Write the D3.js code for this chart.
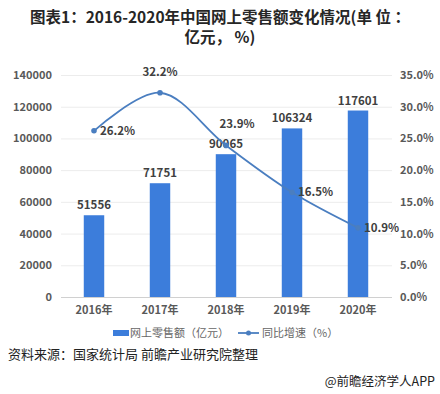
<!DOCTYPE html>
<html>
<head>
<meta charset="utf-8">
<script src="https://cdn.jsdelivr.net/npm/d3@7"></script>
<style>
  body { margin: 0; background: #fff; }
  svg text { font-family: "Microsoft YaHei", "Noto Sans CJK SC", "Liberation Sans", sans-serif; }
</style>
</head>
<body>
<svg id="chart" width="440" height="394"></svg>
<script>
var years  = ["2016年", "2017年", "2018年", "2019年", "2020年"];
var sales  = [51556, 71751, 90065, 106324, 117601];
var growth = [26.2, 32.2, 23.9, 16.5, 10.9];
var leftTicks  = [0, 20000, 40000, 60000, 80000, 100000, 120000, 140000];
var rightTicks = [0, 5, 10, 15, 20, 25, 30, 35];
// where each growth label sits relative to its point
var growthPos = ["right", "top", "top", "right", "right"];

var barColor = "#3c7ddb",
    lineColor = "#4a7ec0",
    tickColor = "#595959";

var svg = d3.select("#chart");

var x = d3.scaleBand().domain(years).range([61, 391]).paddingInner(0.69).paddingOuter(0.345);
var yL = d3.scaleLinear().domain([0, 140000]).range([297, 75]);
var yR = d3.scaleLinear().domain([0, 35]).range([297, 75]);

// title
svg.append("text").attr("x", 220).attr("y", 23).attr("text-anchor", "middle")
  .style("font-size", "15.5px").style("font-weight", "bold").attr("fill", "#262626")
  .text("图表1：2016-2020年中国网上零售额变化情况(单 位 ：");
svg.append("text").attr("x", 220).attr("y", 43).attr("text-anchor", "middle")
  .style("font-size", "15.5px").style("font-weight", "bold").attr("fill", "#262626")
  .text("亿元， %)");

// grid
svg.append("g").selectAll("line").data(leftTicks).enter().append("line")
  .attr("x1", 61).attr("x2", 392)
  .attr("y1", function(d){ return yL(d) + 0.5 }).attr("y2", function(d){ return yL(d) + 0.5 })
  .attr("stroke", function(d){ return d == 0 ? "#d0d0d0" : "#ececec" })
  .attr("stroke-width", 1);

// left axis
var axL = svg.append("g").attr("transform", "translate(55,0)")
  .call(d3.axisLeft(yL).tickValues(leftTicks).tickSize(0).tickFormat(d3.format("d")));
axL.select(".domain").remove();
axL.selectAll("text").attr("fill", tickColor).style("font-size", "11px").style("font-weight", "bold");

// right axis
var axR = svg.append("g").attr("transform", "translate(397,0)")
  .call(d3.axisRight(yR).tickValues(rightTicks).tickSize(0).tickFormat(function(d){ return d.toFixed(1) + "%" }));
axR.select(".domain").remove();
axR.selectAll("text").attr("fill", tickColor).style("font-size", "11px").style("font-weight", "bold");

// bottom axis
var axB = svg.append("g").attr("transform", "translate(0,303)")
  .call(d3.axisBottom(x).tickSize(0));
axB.select(".domain").remove();
axB.selectAll("text").attr("fill", tickColor).style("font-size", "11px").style("font-weight", "bold");

// bars
svg.append("g").selectAll("rect").data(sales).enter().append("rect")
  .attr("x", function(d, i){ return x(years[i]) })
  .attr("width", x.bandwidth())
  .attr("y", function(d){ return yL(d) })
  .attr("height", function(d){ return yL(0) - yL(d) })
  .attr("fill", barColor);

svg.append("g").selectAll("text").data(sales).enter().append("text")
  .attr("x", function(d, i){ return x(years[i]) + x.bandwidth() / 2 })
  .attr("y", function(d){ return yL(d) - 6 })
  .attr("text-anchor", "middle")
  .attr("fill", "#404040").style("font-size", "11.5px").style("font-weight", "bold")
  .text(function(d){ return d });

// growth line
var line = d3.line()
  .x(function(d, i){ return x(years[i]) + x.bandwidth() / 2 })
  .y(function(d){ return yR(d) })
  .curve(d3.curveCatmullRom.alpha(0.5));

svg.append("path").datum(growth).attr("d", line)
  .attr("fill", "none").attr("stroke", lineColor).attr("stroke-width", 1.8);

svg.append("g").selectAll("circle").data(growth).enter().append("circle")
  .attr("cx", function(d, i){ return x(years[i]) + x.bandwidth() / 2 })
  .attr("cy", function(d){ return yR(d) })
  .attr("r", 2.8).attr("fill", lineColor);

svg.append("g").selectAll("text").data(growth).enter().append("text")
  .attr("x", function(d, i){
    var cx = x(years[i]) + x.bandwidth() / 2;
    if (growthPos[i] == "right") return cx + 6;
    return i == 2 ? cx + 11 : cx;
  })
  .attr("y", function(d, i){ return growthPos[i] == "right" ? yR(d) + 4 : yR(d) - 17 })
  .attr("text-anchor", function(d, i){ return growthPos[i] == "right" ? "start" : "middle" })
  .attr("fill", "#404040").style("font-size", "11.5px").style("font-weight", "bold")
  .text(function(d){ return d.toFixed(1) + "%" });

// legend
var lg = svg.append("g").attr("transform", "translate(0,333)");
lg.append("rect").attr("x", 113).attr("y", -3).attr("width", 16).attr("height", 6).attr("fill", barColor);
lg.append("text").attr("x", 130).attr("y", 4).attr("fill", "#666")
  .style("font-size", "11px").text("网上零售额（亿元）");
lg.append("line").attr("x1", 238).attr("x2", 259).attr("y1", 0).attr("y2", 0)
  .attr("stroke", lineColor).attr("stroke-width", 1.8);
lg.append("circle").attr("cx", 248.5).attr("cy", 0).attr("r", 2.5).attr("fill", lineColor);
lg.append("text").attr("x", 262).attr("y", 4).attr("fill", "#666")
  .style("font-size", "11px").text("同比增速（%）");

// source
svg.append("text").attr("x", 8).attr("y", 359).attr("fill", "#222")
  .style("font-size", "13px").text("资料来源：国家统计局 前瞻产业研究院整理");
svg.append("text").attr("x", 435).attr("y", 386).attr("text-anchor", "end").attr("fill", "#222")
  .style("font-size", "12.5px").text("@前瞻经济学人APP");
</script>
</body>
</html>
